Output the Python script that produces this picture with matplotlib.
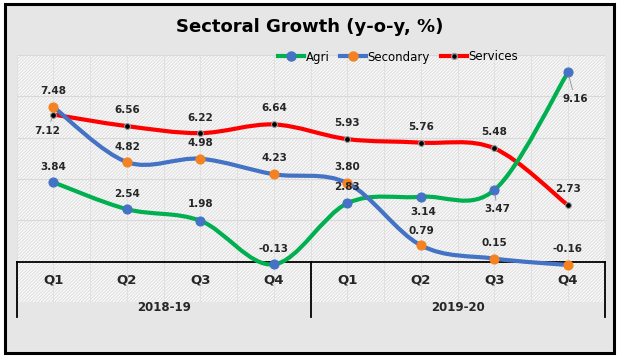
import numpy as np
import matplotlib.pyplot as plt
from matplotlib.path import Path
from matplotlib.patches import PathPatch, Rectangle
from matplotlib.lines import Line2D

quarters = ['Q1', 'Q2', 'Q3', 'Q4', 'Q1', 'Q2', 'Q3', 'Q4']
years = ['2018-19', '2019-20']
agri = [3.84, 2.54, 1.98, -0.13, 2.83, 3.14, 3.47, 9.16]
secondary = [7.48, 4.82, 4.98, 4.23, 3.80, 0.79, 0.15, -0.16]
services = [7.12, 6.56, 6.22, 6.64, 5.93, 5.76, 5.48, 2.73]

# label offsets in points (dx, dy)
agri_off = [(0, 11), (0, 11), (0, 12), (0, 11), (0, 11.5), (2, -11), (2, -14), (5, -19)]
sec_off = [(0, 11.5), (0, 11), (0, 11), (0, 11.5), (0, 11.5), (0, 10), (0, 11), (0, 11.5)]
serv_off = [(-4.5, -11.5), (0, 11.5), (0, 11), (0, 11.5), (0, 11.5), (0, 11), (0, 11.5), (0, 11.5)]
leaders = {('agri', 6), ('agri', 7), ('serv', 0)}


def smooth_path(xs, ys):
    # Excel-like smoothed line: cubic bezier through every point
    pts = np.column_stack([xs, ys]).astype(float)
    n = len(pts)
    verts = [pts[0]]
    codes = [Path.MOVETO]
    for i in range(n - 1):
        p_prev = pts[i - 1] if i > 0 else pts[i]
        p_next2 = pts[i + 2] if i + 2 < n else pts[i + 1]
        c1 = pts[i] + (pts[i + 1] - p_prev) / 6
        c2 = pts[i + 1] - (p_next2 - pts[i]) / 6
        verts += [c1, c2, pts[i + 1]]
        codes += [Path.CURVE4] * 3
    return Path(verts, codes)


fig = plt.figure(figsize=(6.19, 3.57), dpi=100)
fig.patch.set_facecolor('white')
fig.patches.append(Rectangle((5 / 619, 4 / 357), 609 / 619, 349 / 357, transform=fig.transFigure,
                             facecolor='#e6e6e6', edgecolor='black', linewidth=2.2, zorder=0))

ax = fig.add_axes([16.7 / 619, 55 / 357, 588 / 619, 247 / 357])
ax.set_zorder(2)
ax.set_facecolor('white')
ax.add_patch(Rectangle((0, 0), 1, 1, transform=ax.transAxes, facecolor='none',
                       edgecolor='#e2e2e2', hatch='//////////', linewidth=0, zorder=0))
for s in ax.spines.values():
    s.set_visible(False)
ax.set_xlim(-0.5, 7.5)
ax.set_ylim(-1.95, 10)
ax.set_xticks([])
ax.set_yticks([])

x = np.arange(len(quarters))
for v in range(2, 11, 2):
    ax.axhline(v, color='#d9d9d9', lw=0.8, zorder=1)
for v in np.arange(-0.5, 8, 0.5):
    ax.axvline(v, color='#e0e0e0', lw=0.7, zorder=1)

# category table
ax.plot([-0.5, 7.5], [0, 0], color='black', lw=1.3, zorder=2, clip_on=False)
for xv in [-0.5, 3.5, 7.5]:
    ax.plot([xv, xv], [0, -2.68], color='black', lw=1.3, zorder=2, clip_on=False)
for i, q in enumerate(quarters):
    ax.text(x[i], -0.89, q, ha='center', va='center', fontsize=9.5, fontweight='bold', color='#262626')
for i, yr in enumerate(years):
    ax.text(1.5 + 4 * i, -2.2, yr, ha='center', va='center', fontsize=8.5, fontweight='bold',
            color='#262626', clip_on=False)

series = [
    ('serv', services, '#ff0000', 'black', 4.2, serv_off, 3),
    ('agri', agri, '#00b050', '#4472c4', 6.5, agri_off, 4),
    ('sec', secondary, '#4472c4', '#f58220', 6.5, sec_off, 5),
]
for key, vals, lc, mc, ms, offs, z in series:
    ax.add_patch(PathPatch(smooth_path(x, vals), fill=False, edgecolor=lc, lw=3, zorder=z,
                           capstyle='round', joinstyle='round'))
    mec = '#9a9a9a' if key == 'serv' else mc
    ax.plot(x, vals, ls='none', marker='o', ms=ms, mfc=mc, mec=mec, mew=0.8, zorder=z + 0.5)
    for i, v in enumerate(vals):
        kw = {}
        if (key, i) in leaders:
            kw['arrowprops'] = dict(arrowstyle='-', color='#8c8c8c', lw=0.6, shrinkA=1, shrinkB=3)
        ax.annotate(f'{v:.2f}', (x[i], v), xytext=offs[i], textcoords='offset points',
                    ha='center', va='center', fontsize=7.5, fontweight='bold', color='#262626',
                    zorder=10, **kw)

handles = [
    Line2D([], [], color='#00b050', lw=3, marker='o', ms=6.5, mfc='#4472c4', mec='#4472c4'),
    Line2D([], [], color='#4472c4', lw=3, marker='o', ms=6.5, mfc='#f58220', mec='#f58220'),
    Line2D([], [], color='#ff0000', lw=3, marker='o', ms=4.2, mfc='black', mec='#9a9a9a'),
]
leg = fig.legend(handles, ['Agri', 'Secondary', 'Services'], loc='center',
                 bbox_to_anchor=(398 / 619, 1 - 57 / 357), ncol=3, frameon=False, fontsize=8.5,
                 handlelength=2.2, handletextpad=0.15, columnspacing=0.9)
leg.set_zorder(5)

fig.text(310 / 619, 1 - 27 / 357, 'Sectoral Growth (y-o-y, %)', ha='center', va='center',
         fontsize=13, fontweight='bold', color='black')

fig.savefig('out.png', dpi=100, facecolor=fig.get_facecolor())
